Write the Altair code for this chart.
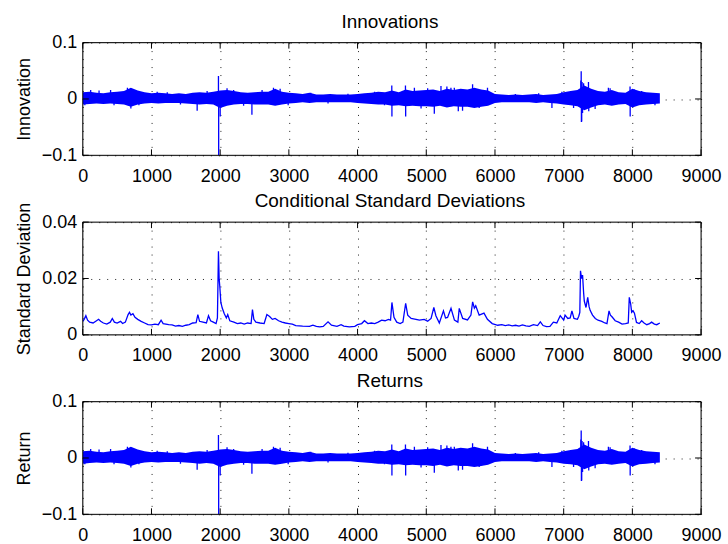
import altair as alt
import pandas as pd

# ---------------- data ----------------
x_ticks = [0, 1000, 2000, 3000, 4000, 5000, 6000, 7000, 8000, 9000]
innov_ticks = [-0.1, 0.0, 0.1]
sigma_ticks = [0.0, 0.02, 0.04]

# envelope of the dense innovation / return noise, every 100 observations
band_x = list(range(0, 8401, 100))
innov_hi = [0.012, 0.013, 0.011, 0.010, 0.012, 0.013, 0.014, 0.020, 0.015, 0.012,
            0.010, 0.011, 0.010, 0.009, 0.010, 0.009, 0.011, 0.012, 0.011, 0.013,
            0.015, 0.016, 0.014, 0.012, 0.011, 0.012, 0.013, 0.013, 0.018, 0.013,
            0.011, 0.010, 0.009, 0.011, 0.008, 0.008, 0.009, 0.008, 0.008, 0.008,
            0.009, 0.010, 0.011, 0.013, 0.012, 0.015, 0.012, 0.017, 0.014, 0.015,
            0.016, 0.017, 0.014, 0.018, 0.016, 0.018, 0.017, 0.020, 0.017, 0.015,
            0.009, 0.008, 0.007, 0.008, 0.007, 0.008, 0.009, 0.007, 0.008, 0.009,
            0.012, 0.014, 0.016, 0.024, 0.018, 0.014, 0.013, 0.016, 0.012, 0.011,
            0.018, 0.014, 0.012, 0.011, 0.010]
innov_lo = [-0.010, -0.009, -0.008, -0.009, -0.008, -0.009, -0.010, -0.014, -0.010, -0.008,
            -0.007, -0.008, -0.007, -0.007, -0.007, -0.008, -0.009, -0.010, -0.009, -0.010,
            -0.016, -0.012, -0.010, -0.009, -0.009, -0.010, -0.010, -0.010, -0.012, -0.010,
            -0.008, -0.007, -0.006, -0.007, -0.006, -0.006, -0.006, -0.006, -0.006, -0.006,
            -0.007, -0.008, -0.009, -0.010, -0.010, -0.012, -0.011, -0.013, -0.012, -0.013,
            -0.013, -0.014, -0.012, -0.015, -0.013, -0.014, -0.014, -0.016, -0.014, -0.012,
            -0.007, -0.006, -0.006, -0.006, -0.006, -0.006, -0.007, -0.006, -0.007, -0.008,
            -0.010, -0.011, -0.013, -0.020, -0.015, -0.011, -0.010, -0.012, -0.010, -0.009,
            -0.015, -0.011, -0.010, -0.009, -0.008]

# individual spikes standing out of the noise band (observation, value)
innov_spikes = [(30, -0.011), (115, 0.016), (237, 0.015), (405, 0.016), (455, -0.011),
                (650, 0.020), (700, -0.017), (817, -0.011), (1083, 0.013), (1230, 0.012),
                (1422, -0.010), (1665, -0.021), (1810, 0.014), (1975, 0.041), (1978, -0.100),
                (2000, -0.031), (2100, 0.019), (2196, 0.016), (2341, -0.012), (2462, -0.028),
                (2610, 0.016), (2776, 0.020), (2873, 0.018), (2990, -0.011), (3318, 0.011),
                (3570, -0.008), (3860, 0.0095), (4247, 0.013), (4392, -0.011), (4498, 0.024),
                (4500, -0.031), (4697, 0.024), (4700, -0.031), (4827, 0.020), (4924, -0.017),
                (5020, 0.019), (5117, -0.026), (5214, 0.023), (5300, 0.022), (5359, 0.020),
                (5408, 0.020), (5466, -0.022), (5528, -0.021), (5674, 0.026), (5770, -0.016),
                (5891, 0.020), (6297, 0.009), (6636, 0.010), (6829, -0.016), (6974, 0.013),
                (7144, -0.016), (7250, 0.033), (7255, 0.049), (7258, -0.041), (7262, -0.040),
                (7268, 0.030), (7275, -0.025), (7290, 0.028), (7361, 0.030), (7365, -0.022),
                (7458, -0.018), (7651, 0.020), (7676, 0.019), (7966, 0.022), (7968, -0.031),
                (8029, 0.017), (8135, 0.014), (8329, -0.011)]

# conditional standard deviation (observation, sigma)
sigma_points = [
    (0, 0.0048), (20, 0.0055), (45, 0.0068), (70, 0.0052), (100, 0.0045), (150, 0.0042),
    (200, 0.0050), (230, 0.0055), (260, 0.0048), (300, 0.0042), (350, 0.0038), (400, 0.0045),
    (430, 0.0058), (460, 0.0045), (500, 0.0042), (550, 0.0048), (580, 0.0040), (620, 0.0045),
    (660, 0.0072), (680, 0.0080), (700, 0.0070), (730, 0.0075), (760, 0.0062), (800, 0.0055),
    (850, 0.0048), (900, 0.0042), (950, 0.0036), (1000, 0.0035), (1050, 0.0038), (1100, 0.0036),
    (1140, 0.0052), (1170, 0.0040), (1250, 0.0036), (1300, 0.0035), (1350, 0.0031), (1400, 0.0033),
    (1450, 0.0030), (1500, 0.0034), (1550, 0.0036), (1600, 0.0042), (1650, 0.0043), (1675, 0.0072),
    (1700, 0.0048), (1750, 0.0045), (1800, 0.0042), (1830, 0.0068), (1860, 0.0050), (1900, 0.0045),
    (1940, 0.0040), (1960, 0.0060), (1975, 0.0297), (1985, 0.0200), (1995, 0.0170), (2010, 0.0115),
    (2030, 0.0095), (2060, 0.0075), (2090, 0.0060), (2110, 0.0072), (2140, 0.0050), (2200, 0.0045),
    (2250, 0.0040), (2300, 0.0042), (2350, 0.0038), (2400, 0.0042), (2450, 0.0040), (2470, 0.0090),
    (2490, 0.0055), (2520, 0.0045), (2580, 0.0042), (2640, 0.0040), (2680, 0.0072), (2720, 0.0065),
    (2760, 0.0055), (2800, 0.0058), (2850, 0.0050), (2900, 0.0045), (2950, 0.0042), (3000, 0.0040),
    (3050, 0.0038), (3100, 0.0033), (3200, 0.0031), (3300, 0.0030), (3350, 0.0034), (3400, 0.0030),
    (3450, 0.0028), (3500, 0.0030), (3570, 0.0046), (3620, 0.0034), (3700, 0.0030), (3760, 0.0036),
    (3800, 0.0031), (3880, 0.0028), (3960, 0.0030), (4000, 0.0036), (4060, 0.0040), (4100, 0.0050),
    (4150, 0.0040), (4200, 0.0042), (4250, 0.0040), (4300, 0.0045), (4350, 0.0052), (4400, 0.0050),
    (4450, 0.0055), (4480, 0.0052), (4500, 0.0115), (4530, 0.0062), (4570, 0.0045), (4620, 0.0040),
    (4660, 0.0045), (4700, 0.0112), (4730, 0.0070), (4780, 0.0058), (4850, 0.0055), (4900, 0.0052),
    (4970, 0.0055), (5020, 0.0048), (5070, 0.0058), (5110, 0.0097), (5140, 0.0068), (5190, 0.0042),
    (5250, 0.0085), (5280, 0.0060), (5310, 0.0062), (5360, 0.0094), (5410, 0.0052), (5460, 0.0045),
    (5480, 0.0094), (5530, 0.0058), (5600, 0.0053), (5650, 0.0070), (5675, 0.0117), (5700, 0.0095),
    (5720, 0.0103), (5770, 0.0070), (5840, 0.0077), (5890, 0.0055), (5960, 0.0040), (6040, 0.0034),
    (6100, 0.0036), (6150, 0.0033), (6200, 0.0035), (6250, 0.0032), (6300, 0.0034), (6350, 0.0031),
    (6400, 0.0035), (6450, 0.0032), (6500, 0.0030), (6560, 0.0036), (6620, 0.0033), (6660, 0.0046),
    (6700, 0.0033), (6750, 0.0029), (6800, 0.0030), (6850, 0.0045), (6900, 0.0042), (6950, 0.0068),
    (7000, 0.0052), (7020, 0.0070), (7060, 0.0058), (7095, 0.0060), (7120, 0.0085), (7150, 0.0058),
    (7200, 0.0055), (7220, 0.0066), (7235, 0.0080), (7245, 0.0227), (7260, 0.0200), (7275, 0.0212),
    (7290, 0.0150), (7300, 0.0120), (7325, 0.0097), (7350, 0.0133), (7370, 0.0100), (7385, 0.0087),
    (7420, 0.0070), (7460, 0.0058), (7500, 0.0052), (7555, 0.0048), (7600, 0.0042), (7630, 0.0040),
    (7660, 0.0085), (7680, 0.0070), (7700, 0.0065), (7750, 0.0050), (7800, 0.0045), (7850, 0.0038),
    (7900, 0.0040), (7940, 0.0042), (7955, 0.0133), (7975, 0.0110), (7990, 0.0080), (8010, 0.0085),
    (8030, 0.0077), (8060, 0.0044), (8100, 0.0040), (8135, 0.0050), (8170, 0.0042), (8210, 0.0036),
    (8250, 0.0040), (8280, 0.0045), (8320, 0.0038), (8355, 0.0036), (8400, 0.0042)]

# returns look identical to the innovations in the reference
returns_hi = list(innov_hi)
returns_lo = list(innov_lo)
returns_spikes = list(innov_spikes)

# ---------------- chart ----------------
W, H = 620, 113
FONT = "Liberation Sans"
BLUE = "#0000ff"
XS = alt.Scale(domain=[0, 9000], nice=False, zero=False)
GRID = dict(grid=True, gridDash=[1, 7], gridColor="#222222", gridWidth=1,
            ticks=False, tickSize=0, domain=False, labelOverlap=False,
            labelFont=FONT, labelFontSize=18, labelColor="black",
            titleFont=FONT, titleFontSize=18, titleFontWeight="normal", titleColor="black")

X_AXIS = alt.Axis(values=x_ticks, format="d", title=None, labelPadding=12,
                  labelFlush=False, **GRID)


def y_axis(ticks, title):
    return alt.Axis(values=ticks, format="~g", title=title, labelPadding=6,
                    titlePadding=8, **GRID)


def frame_layers(ys, yax, ticks, title_text):
    xt = pd.DataFrame({"obs": x_ticks})
    yt = pd.DataFrame({"v": ticks})
    return [
        alt.Chart(xt).mark_rule(color="black").encode(
            x=alt.X("obs:Q", scale=XS, axis=X_AXIS, title=None),
            y=alt.value(H), y2=alt.value(H - 6)),
        alt.Chart(xt).mark_rule(color="black").encode(
            x=alt.X("obs:Q", scale=XS, axis=X_AXIS, title=None),
            y=alt.value(0), y2=alt.value(6)),
        alt.Chart(yt).mark_rule(color="black").encode(
            y=alt.Y("v:Q", scale=ys, axis=yax),
            x=alt.value(0), x2=alt.value(6)),
        alt.Chart(yt).mark_rule(color="black").encode(
            y=alt.Y("v:Q", scale=ys, axis=yax),
            x=alt.value(W - 6), x2=alt.value(W)),
        # box around the plot area
        alt.Chart(pd.DataFrame({"a": [0]})).mark_rect(
            fill=None, fillOpacity=0, stroke="black", strokeWidth=1
        ).encode(x=alt.value(0), x2=alt.value(W), y=alt.value(0), y2=alt.value(H)),
        alt.Chart(pd.DataFrame({"label": [title_text]})).mark_text(
            font=FONT, fontSize=19, baseline="alphabetic", align="center", color="black"
        ).encode(text="label:N", x=alt.value(W / 2 - 2), y=alt.value(-15)),
    ]


def anchor(xv, yv):
    return alt.Chart(pd.DataFrame({"a": [0]})).mark_rule(opacity=0, strokeOpacity=0).encode(
        x=alt.value(xv), x2=alt.value(xv + 1), y=alt.value(yv), y2=alt.value(yv + 1))


def noise_panel(title_text, y_title, hi, lo, spikes, extra=None):
    ys = alt.Scale(domain=[-0.1, 0.1], nice=False, zero=False)
    yax = y_axis(innov_ticks, y_title)
    band = pd.DataFrame({"obs": band_x, "v": hi, "lo": lo})
    sp = pd.DataFrame({"obs": [s[0] for s in spikes], "v": [s[1] for s in spikes],
                       "base": [0.0] * len(spikes)})
    area = alt.Chart(band).mark_area(color=BLUE, opacity=1, clip=True).encode(
        x=alt.X("obs:Q", scale=XS, axis=X_AXIS),
        y=alt.Y("v:Q", scale=ys, axis=yax),
        y2="lo:Q")
    spikes_l = alt.Chart(sp).mark_rule(color=BLUE, strokeWidth=1.3, clip=True).encode(
        x=alt.X("obs:Q", scale=XS, axis=X_AXIS),
        y=alt.Y("v:Q", scale=ys, axis=yax), y2="base:Q")
    layers = [area, spikes_l] + frame_layers(ys, yax, innov_ticks, title_text)
    if extra is not None:
        layers.append(extra)
    return alt.layer(*layers).properties(width=W, height=H)


def sigma_panel():
    ys = alt.Scale(domain=[0, 0.04], nice=False, zero=False)
    yax = y_axis(sigma_ticks, "Standard Deviation")
    df = pd.DataFrame({"obs": [p[0] for p in sigma_points], "v": [p[1] for p in sigma_points]})
    line = alt.Chart(df).mark_line(color=BLUE, strokeWidth=1.3, clip=True).encode(
        x=alt.X("obs:Q", scale=XS, axis=X_AXIS),
        y=alt.Y("v:Q", scale=ys, axis=yax))
    layers = [line] + frame_layers(ys, yax, sigma_ticks, "Conditional Standard Deviations")
    return alt.layer(*layers).properties(width=W, height=H)


p1 = noise_panel("Innovations", "Innovation", innov_hi, innov_lo, innov_spikes,
                 extra=anchor(-82, -41))
p2 = sigma_panel()
p3 = noise_panel("Returns", "Return", returns_hi, returns_lo, returns_spikes,
                 extra=anchor(645, 142))

chart = alt.vconcat(p1, p2, p3, spacing=67, bounds="flush").properties(
    padding=0
).configure_view(
    stroke=None
).configure(background="white")

chart.save("out.html", embed_options={"renderer": "svg", "actions": False})
